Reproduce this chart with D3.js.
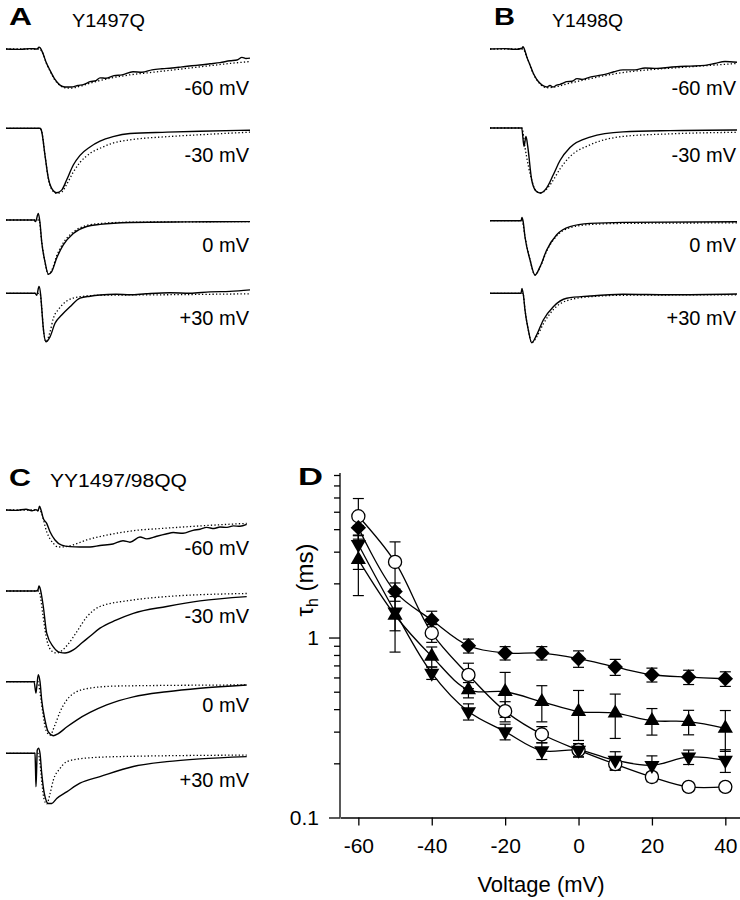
<!DOCTYPE html>
<html><head><meta charset="utf-8">
<script src="https://cdn.jsdelivr.net/npm/d3@7"></script>
<style>
body{margin:0;background:#fff}
svg{display:block;background:#fff}
text{font-family:"Liberation Sans",Arial,Helvetica,sans-serif;fill:#000}
</style>
</head><body>
<svg id="fig" width="740" height="900"></svg>
<script>
// ---------- Panel D data ----------
const voltages = [-60,-50,-40,-30,-20,-10,0,10,20,30,40];
const tauCircle  = [4.72,2.63,1.06,0.62,0.39,0.29,0.237,0.198,0.168,0.148,0.148];
const errCircle  = [1.2,0.77,0.12,0.1,0.05,0.03,0.02,0.015,0.01,0.008,0.008];
const tauDiamond = [4.08,1.80,1.25,0.90,0.82,0.82,0.763,0.686,0.621,0.603,0.59];
const errDiamond = [0.4,0.21,0.15,0.08,0.07,0.07,0.08,0.07,0.055,0.055,0.055];
const tauUp      = [2.71,1.33,0.786,0.512,0.50,0.44,0.388,0.38,0.345,0.341,0.313];
const errUp      = [1.0,0.5,0.1,0.05,0.14,0.1,0.12,0.105,0.058,0.053,0.08];
const tauDown    = [3.29,1.39,0.635,0.388,0.30,0.235,0.237,0.208,0.195,0.217,0.208];
const errDown    = [0.9,0.3,0.05,0.04,0.03,0.025,0.02,0.024,0.025,0.02,0.03];
const xTicks = [-60,-40,-20,0,20,40];
const yTicks = [0.1,0.2,0.3,0.4,0.5,0.6,0.7,0.8,0.9,1,2,3,4,5,6,7,8];
const yLabelled = [0.1,1];

// ---------- Current traces: [time (ms), normalised current] ----------
// Panel A  Y1497Q
const a60s = [[0,0],[1.4,-0.01],[2.4,0.01],[3.1,0],[3.3,0.05],[3.45,0.02],[3.7,-0.12],[4.0,-0.34],[4.4,-0.56],[4.9,-0.8],[5.4,-0.95],[5.9,-1],[6.5,-1.0],[7.2,-0.96],[7.8,-0.93],[8.4,-0.86],[9.0,-0.83],[9.4,-0.76],[10.0,-0.77],[10.8,-0.7],[11.6,-0.68],[12.7,-0.6],[13.6,-0.61],[14.6,-0.55],[15.6,-0.52],[16.6,-0.5],[17.6,-0.47],[18.6,-0.44],[19.4,-0.42],[20.4,-0.39],[21.4,-0.36],[22.4,-0.31],[23.1,-0.29],[23.6,-0.22],[24.0,-0.25],[24.4,-0.24]];
const a60d = [[0,0],[3.3,0],[3.7,-0.12],[4.0,-0.35],[4.4,-0.58],[4.9,-0.82],[5.4,-0.96],[5.9,-1.02],[6.5,-1.03],[7.4,-0.98],[8.4,-0.9],[9.4,-0.83],[10.4,-0.77],[12.4,-0.68],[14.4,-0.62],[16.4,-0.56],[18.4,-0.5],[20.4,-0.44],[22.4,-0.38],[24.4,-0.33]];
const a30ms = [[0,0],[3.4,0],[3.57,-0.05],[3.9,-0.42],[4.23,-0.77],[4.73,-0.97],[5.07,-1],[5.57,-0.96],[6.07,-0.8],[6.73,-0.57],[7.4,-0.42],[8.4,-0.29],[9.4,-0.2],[10.7,-0.13],[12.4,-0.08],[16.1,-0.06],[19.4,-0.045],[24.4,-0.03]];
const a30md = [[0,0],[3.4,0],[3.57,-0.05],[3.9,-0.42],[4.23,-0.78],[4.73,-0.98],[5.07,-1.01],[5.57,-0.99],[6.07,-0.87],[6.73,-0.68],[7.4,-0.53],[8.4,-0.39],[9.4,-0.31],[10.7,-0.23],[12.4,-0.18],[16.1,-0.13],[19.4,-0.1],[24.4,-0.06]];
const a0s = [[0,0],[2.8,0],[2.95,-0.03],[3.23,0.12],[3.4,-0.05],[3.57,-0.4],[3.9,-0.77],[4.23,-1],[4.57,-0.95],[5.07,-0.7],[5.73,-0.46],[6.73,-0.25],[8.07,-0.12],[9.4,-0.08],[12.4,-0.045],[18,-0.035],[24.4,-0.03]];
const a0d = [[0,0],[3.3,0],[3.57,-0.4],[3.9,-0.78],[4.23,-1.0],[4.57,-0.93],[5.07,-0.66],[5.73,-0.42],[6.73,-0.22],[8.07,-0.1],[9.4,-0.065],[12.4,-0.04],[24.4,-0.03]];
const a30ps = [[0,0],[2.9,0],[3.07,-0.04],[3.3,0.14],[3.47,-0.04],[3.57,-0.3],[3.73,-0.72],[4.0,-1],[4.4,-0.9],[4.9,-0.62],[5.57,-0.45],[6.4,-0.28],[7.4,-0.1],[8.4,-0.06],[9.4,-0.035],[11,-0.02],[12.4,-0.03],[14,-0.01],[16.4,0.01],[18.4,0.0],[20.4,0.03],[22.4,0.04],[24.4,0.07]];
const a30pd = [[0,0],[3.4,0],[3.57,-0.3],[3.73,-0.72],[4.0,-1],[4.4,-0.8],[4.73,-0.52],[5.3,-0.32],[6.07,-0.16],[7.4,-0.07],[9.4,-0.04],[16,-0.03],[24.4,-0.01]];
// Panel B  Y1498Q
const b60s = [[0,0],[1.5,0.01],[2.5,-0.01],[3.2,0.02],[3.3,0.06],[3.5,-0.05],[3.67,-0.2],[4.0,-0.42],[4.33,-0.64],[4.67,-0.8],[5.0,-0.9],[5.4,-0.98],[5.67,-1.0],[6.0,-0.96],[6.3,-1.0],[6.67,-0.95],[7.0,-0.93],[7.3,-0.9],[7.67,-0.86],[8.2,-0.85],[8.7,-0.78],[9.2,-0.8],[10,-0.74],[10.8,-0.7],[11.6,-0.66],[12.4,-0.6],[13.3,-0.55],[14.5,-0.55],[15.5,-0.5],[16.7,-0.51],[18,-0.48],[19,-0.46],[20,-0.45],[21.5,-0.43],[22.5,-0.38],[23.5,-0.33],[24.7,-0.35]];
const b60d = [[0,0],[3.3,0],[3.67,-0.2],[4.33,-0.65],[5.0,-0.92],[5.67,-1.02],[6.67,-0.99],[7.67,-0.92],[10,-0.78],[13.3,-0.62],[16.7,-0.53],[20,-0.47],[24.7,-0.38]];
const b30ms = [[0,0],[3.17,0],[3.4,-0.28],[3.6,-0.13],[3.77,-0.28],[4.17,-0.8],[4.6,-0.97],[5.0,-1.0],[5.67,-0.92],[6.33,-0.72],[7.0,-0.5],[8.0,-0.3],[10,-0.14],[13.3,-0.06],[18,-0.04],[24.7,-0.03]];
const b30md = [[0,0],[3.2,0],[3.5,-0.3],[4.17,-0.8],[4.6,-0.97],[5.0,-1.0],[5.67,-0.94],[6.33,-0.8],[7.0,-0.63],[8.0,-0.44],[10,-0.26],[13.3,-0.13],[18,-0.09],[24.7,-0.066]];
const b0s = [[0,0],[3.1,0],[3.2,0.06],[3.3,0.0],[3.5,-0.3],[4.0,-0.72],[4.5,-1.0],[5.0,-0.85],[5.67,-0.54],[6.67,-0.26],[8.0,-0.11],[10,-0.05],[13.3,-0.03],[24.7,-0.02]];
const b0d = [[0,0],[3.2,0],[3.5,-0.3],[4.0,-0.72],[4.5,-1.0],[5.0,-0.86],[5.67,-0.56],[6.67,-0.28],[8.0,-0.13],[10,-0.07],[13.3,-0.05],[24.7,-0.04]];
const b30ps = [[0,0],[3.1,0],[3.2,0.1],[3.35,-0.05],[3.5,-0.34],[3.83,-0.74],[4.17,-1],[4.67,-0.84],[5.33,-0.54],[6.33,-0.27],[7.67,-0.1],[10,-0.055],[13.3,-0.02],[18,-0.03],[24.7,-0.015]];
const b30pd = [[0,0],[3.3,0],[3.5,-0.34],[3.83,-0.74],[4.17,-1],[4.67,-0.88],[5.33,-0.62],[6.33,-0.33],[7.67,-0.15],[10,-0.07],[13.3,-0.04],[24.7,-0.03]];
// Panel C  YY1497/98QQ
const c60s = [[0,0],[1,-0.01],[2,0.02],[2.6,-0.02],[3.0,0.01],[3.2,-0.03],[3.35,0.1],[3.5,0.0],[3.73,-0.23],[4.07,-0.36],[4.4,-0.59],[4.9,-0.81],[5.57,-0.95],[6.4,-0.99],[7.4,-1.0],[8.4,-1.0],[9.4,-0.96],[10.7,-0.92],[11.7,-0.83],[12.4,-0.87],[13.4,-0.73],[14.07,-0.78],[15.07,-0.71],[16.0,-0.65],[16.73,-0.61],[17.7,-0.63],[18.7,-0.55],[19.4,-0.52],[20.07,-0.47],[20.8,-0.5],[21.4,-0.46],[22.1,-0.47],[22.73,-0.43],[23.4,-0.44],[24.07,-0.39]];
const c60d = [[0,0],[3.3,0],[3.5,-0.05],[4.07,-0.59],[4.73,-0.9],[5.23,-1.0],[6.0,-0.99],[6.73,-0.94],[8.07,-0.81],[10.07,-0.68],[12.73,-0.56],[16.07,-0.49],[19.4,-0.43],[24.07,-0.36]];
const c30ms = [[0,0],[3.0,0],[3.2,0.02],[3.3,0.08],[3.4,0.05],[3.73,-0.25],[4.07,-0.68],[4.73,-0.9],[5.4,-0.99],[5.9,-1.0],[6.73,-0.95],[7.57,-0.84],[8.4,-0.73],[9.4,-0.6],[11,-0.47],[12.73,-0.36],[16.07,-0.25],[19.4,-0.16],[24.07,-0.09]];
const c30md = [[0,0],[3.3,0],[3.45,-0.1],[3.7,-0.4],[4.1,-0.8],[4.6,-0.97],[5.07,-1.0],[5.6,-0.96],[6.2,-0.86],[7.07,-0.66],[8.07,-0.42],[9.4,-0.25],[12.73,-0.145],[16.07,-0.09],[24.07,-0.04]];
const c0s = [[0,0],[2.8,0],[3.0,-0.21],[3.1,-0.05],[3.23,0.13],[3.4,0.0],[3.57,-0.34],[3.9,-0.71],[4.23,-0.93],[4.73,-1.0],[5.23,-0.96],[6.07,-0.84],[7.07,-0.71],[8.4,-0.57],[10.07,-0.43],[12.73,-0.28],[16.07,-0.185],[19.4,-0.12],[24.07,-0.06]];
const c0d = [[0,0],[3.2,0],[3.4,-0.2],[3.7,-0.6],[4.0,-0.9],[4.4,-0.99],[4.9,-0.8],[5.4,-0.56],[6.07,-0.34],[7.07,-0.185],[8.4,-0.12],[11.07,-0.08],[24.07,-0.06]];
const c30ps = [[0,0],[2.9,0],[2.95,-0.3],[3.0,-0.66],[3.08,-0.2],[3.12,0.06],[3.25,0.1],[3.4,0],[3.57,-0.39],[3.83,-0.79],[4.23,-0.99],[4.57,-0.99],[5.07,-0.89],[6.07,-0.76],[7.4,-0.59],[9.4,-0.46],[12.73,-0.26],[16.07,-0.165],[19.4,-0.11],[24.07,-0.066]];
const c30pd = [[0,0],[3.2,0],[3.4,-0.2],[3.6,-0.6],[3.8,-0.9],[4.07,-1.0],[4.4,-0.8],[4.73,-0.53],[5.4,-0.3],[6.07,-0.165],[7.73,-0.1],[11.07,-0.066],[24.07,-0.035]];

const voltLabels = ["-60 mV","-30 mV","0 mV","+30 mV"];
const panelLetters = ["A","B","C","D"];
const panelTitles = ["Y1497Q","Y1498Q","YY1497/98QQ"];

// ---------- layout ----------
const svg = d3.select("#fig");
svg.append("rect").attr("width",740).attr("height",900).attr("fill","#fff");

const traceLayout = [
  {xr:[6,250], xd:[0,24.4], lx:249,
   rows:[{base:49,peak:87,s:a60s,d:a60d,ly:95},{base:128.3,peak:192.7,s:a30ms,d:a30md,ly:162},
         {base:220,peak:274.3,s:a0s,d:a0d,ly:252},{base:293.3,peak:341.7,s:a30ps,d:a30pd,ly:325}]},
  {xr:[490,738], xd:[0,24.8], lx:736,
   rows:[{base:49,peak:87,s:b60s,d:b60d,ly:95},{base:128,peak:193,s:b30ms,d:b30md,ly:162},
         {base:220.7,peak:275,s:b0s,d:b0d,ly:252},{base:293.3,peak:342.7,s:b30ps,d:b30pd,ly:325}]},
  {xr:[6,250], xd:[0,24.4], lx:249,
   rows:[{base:510,peak:547,s:c60s,d:c60d,ly:555},{base:591,peak:653,s:c30ms,d:c30md,ly:623},
         {base:681.7,peak:735.7,s:c0s,d:c0d,ly:712},{base:753.3,peak:804,s:c30ps,d:c30pd,ly:787}]}
];

traceLayout.forEach((p,pi)=>{
  const xs = d3.scaleLinear(p.xd, p.xr);
  const g = svg.append("g");
  p.rows.forEach((r,ri)=>{
    const ys = d3.scaleLinear([-1,0],[r.peak,r.base]);
    const line = d3.line().x(d=>xs(d[0])).y(d=>ys(d[1])).curve(d3.curveMonotoneX);
    g.append("path").attr("d",line(r.d)).attr("fill","none").attr("stroke","#000")
      .attr("stroke-width",1.3).attr("stroke-dasharray","1.3 2.2");
    g.append("path").attr("d",line(r.s)).attr("fill","none").attr("stroke","#000")
      .attr("stroke-width",1.4).attr("stroke-linejoin","round");
    g.append("text").attr("x",p.lx).attr("y",r.ly).attr("text-anchor","end")
      .attr("font-size",20).text(voltLabels[ri]);
  });
});

// panel letters & titles
const letterPos = [[9,25,23],[494,25,21],[9,486,22],[298,485,25]];
panelLetters.forEach((L,i)=>{
  svg.append("text").attr("x",letterPos[i][0]).attr("y",letterPos[i][1])
    .attr("font-size",23).attr("font-weight","bold")
    .attr("textLength",letterPos[i][2]).attr("lengthAdjust","spacingAndGlyphs").text(L);
});
const titlePos = [[72,27,73],[552,27,71],[50,487,137]];
panelTitles.forEach((t,i)=>{
  svg.append("text").attr("x",titlePos[i][0]).attr("y",titlePos[i][1])
    .attr("font-size",18).attr("textLength",titlePos[i][2])
    .attr("lengthAdjust","spacingAndGlyphs").text(t);
});

// ---------- Panel D ----------
const x = d3.scaleLinear([-65,44],[340,740]);
const y = d3.scaleLog([0.1,8],[817.5,475]);
const gD = svg.append("g");

const xAxis = gD.append("g").attr("transform","translate(0,817.5)")
  .call(d3.axisBottom(x).tickValues(xTicks).tickSize(8).tickSizeOuter(0).tickPadding(13)
        .tickFormat(d=>String(d)));
xAxis.selectAll("text").attr("font-size",21).attr("font-family","Liberation Sans, Arial, sans-serif");
const yAxis = gD.append("g").attr("transform","translate(340,0)")
  .call(d3.axisLeft(y).tickValues(yTicks).tickSize(6).tickSizeOuter(0).tickPadding(15)
        .tickFormat(d=>yLabelled.includes(d)?String(d):""));
yAxis.selectAll(".tick line").filter(d=>yLabelled.includes(d)).attr("x2",-11);
yAxis.selectAll("text").attr("font-size",21).attr("font-family","Liberation Sans, Arial, sans-serif");
yAxis.select(".domain").attr("d","M0,473V817.5");
[xAxis,yAxis].forEach(a=>{a.selectAll("line,path").attr("stroke","#000").attr("stroke-width",1.3);});

gD.append("text").attr("x",541).attr("y",892).attr("text-anchor","middle")
  .attr("font-size",22).text("Voltage (mV)");
const yl = gD.append("text").attr("transform","translate(313,580) rotate(-90)")
  .attr("text-anchor","middle").attr("font-size",24);
yl.append("tspan").text("τ");
yl.append("tspan").attr("font-size",16).attr("dy",5).text("h");
yl.append("tspan").attr("dy",-5).text(" (ms)");

const series = [
  {tau:tauCircle, err:errCircle, sym:"circle"},
  {tau:tauDiamond, err:errDiamond, sym:"diamond"},
  {tau:tauUp, err:errUp, sym:"up"},
  {tau:tauDown, err:errDown, sym:"down"}
];
const lineD = d3.line().x(d=>x(d[0])).y(d=>y(d[1])).curve(d3.curveCatmullRom.alpha(0.5));
series.forEach(s=>{
  gD.append("path").attr("d",lineD(voltages.map((v,i)=>[v,s.tau[i]])))
    .attr("fill","none").attr("stroke","#000").attr("stroke-width",1.3);
});
series.forEach(s=>{
  voltages.forEach((v,i)=>{
    const lo = Math.max(s.tau[i]-s.err[i],0.101), hi = s.tau[i]+s.err[i];
    const cx = x(v);
    const e = gD.append("g").attr("stroke","#000").attr("stroke-width",1.2);
    e.append("line").attr("x1",cx).attr("x2",cx).attr("y1",y(lo)).attr("y2",y(hi));
    e.append("line").attr("x1",cx-5.5).attr("x2",cx+5.5).attr("y1",y(lo)).attr("y2",y(lo));
    e.append("line").attr("x1",cx-5.5).attr("x2",cx+5.5).attr("y1",y(hi)).attr("y2",y(hi));
  });
});
const symCircle = d3.symbol().type(d3.symbolCircle).size(135)();
const symSquare = d3.symbol().type(d3.symbolSquare).size(120)();
const symTri = d3.symbol().type(d3.symbolTriangle).size(100)();
series.forEach(s=>{
  voltages.forEach((v,i)=>{
    const t = `translate(${x(v)},${y(s.tau[i])})`;
    if(s.sym==="circle"){
      gD.append("path").attr("d",symCircle).attr("transform",t)
        .attr("fill","#fff").attr("stroke","#000").attr("stroke-width",1.3);
    } else if(s.sym==="diamond"){
      gD.append("path").attr("d",symSquare).attr("transform",t+" rotate(45)").attr("fill","#000");
    } else if(s.sym==="up"){
      gD.append("path").attr("d",symTri).attr("transform",t).attr("fill","#000");
    } else {
      gD.append("path").attr("d",symTri).attr("transform",t+" rotate(180)").attr("fill","#000");
    }
  });
});
</script>
</body></html>
